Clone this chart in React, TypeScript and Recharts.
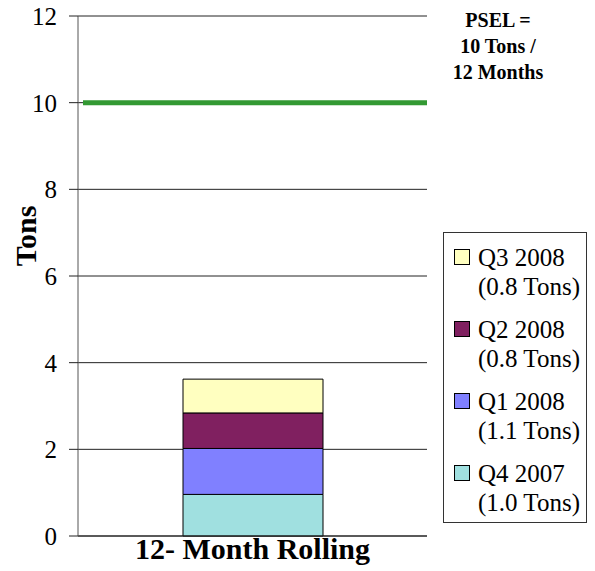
import { BarChart, Bar, XAxis, YAxis, CartesianGrid, ReferenceLine } from 'recharts';

// chart values
const categories = ['12- Month Rolling'];
const quarters = ['Q4 2007', 'Q1 2008', 'Q2 2008', 'Q3 2008'];
const tons = [0.96, 1.06, 0.82, 0.78];
const tonLabels = ['(1.0 Tons)', '(1.1 Tons)', '(0.8 Tons)', '(0.8 Tons)'];
const colors = ['#A0E0E0', '#8080FF', '#802060', '#FFFFC0'];
const yTicks = [0, 2, 4, 6, 8, 10, 12];
const limit = 10;
const limitNote = ['PSEL =', '10 Tons /', '12 Months'];

const data = categories.map((name) => {
    const row: any = { name };
    quarters.forEach((q, i) => { row[q] = tons[i]; });
    return row;
});

const FONT = "'Liberation Serif', 'Times New Roman', serif";

function LegendBox() {
    // top of the stack listed first
    const order = [3, 2, 1, 0];
    return (
        <div style={{ position: 'absolute', left: 443, top: 232, border: '1px solid #333', background: '#fff', padding: '10px 0 6px 10px', boxSizing: 'border-box', width: 144, height: 291, fontFamily: FONT, fontSize: 25, lineHeight: '29px', color: '#000' }}>
            {order.map((i, k) => (
                <div key={quarters[i]} style={{ display: 'flex', marginTop: k === 0 ? 0 : 14 }}>
                    <div style={{ width: 14, height: 14, background: colors[i], border: '1px solid #000', marginTop: 6, marginRight: 8, flexShrink: 0 }} />
                    <div>
                        <div>{quarters[i]}</div>
                        <div style={{ whiteSpace: 'nowrap' }}>{tonLabels[i]}</div>
                    </div>
                </div>
            ))}
        </div>
    );
}

export default function App() {
    return (
        <div style={{ position: 'absolute', left: 0, top: 0, width: 595, height: 571, background: '#fff', fontFamily: FONT }}>
            <BarChart width={595} height={571} data={data} margin={{ top: 16, right: 168, left: 0, bottom: 0 }}>
                <CartesianGrid vertical={false} stroke="#222" strokeWidth={1} />
                <XAxis
                    dataKey="name"
                    height={35}
                    tickLine={false}
                    tickSize={0}
                    tickMargin={2}
                    axisLine={{ stroke: '#222' }}
                    tick={{ fill: '#000', fontSize: 30, fontWeight: 'bold', fontFamily: FONT }}
                />
                <YAxis
                    width={78}
                    domain={[0, 12]}
                    ticks={yTicks}
                    interval={0}
                    tickSize={9}
                    tickMargin={12}
                    axisLine={{ stroke: '#555' }}
                    tickLine={{ stroke: '#222' }}
                    tick={{ fill: '#000', fontSize: 25, fontFamily: FONT }}
                    label={() => (
                        <text x={25} y={236} transform="rotate(-90 25 236)" textAnchor="middle" dominantBaseline="central" fontSize={30} fontWeight="bold" fontFamily={FONT} fill="#000">
                            Tons
                        </text>
                    )}
                />
                {quarters.map((q, i) => (
                    <Bar key={q} dataKey={q} stackId="a" fill={colors[i]} stroke="#000" strokeWidth={1} barSize={140} isAnimationActive={false} />
                ))}
                <ReferenceLine y={limit} stroke="#339933" strokeWidth={5} strokeDasharray="0 5 1000" />
            </BarChart>
            <LegendBox />
            <div style={{ position: 'absolute', left: 443, top: 7, width: 110, textAlign: 'center', fontFamily: FONT, fontWeight: 'bold', fontSize: 20, lineHeight: '26px', color: '#000' }}>
                {limitNote.map((t) => <div key={t}>{t}</div>)}
            </div>
        </div>
    );
}
